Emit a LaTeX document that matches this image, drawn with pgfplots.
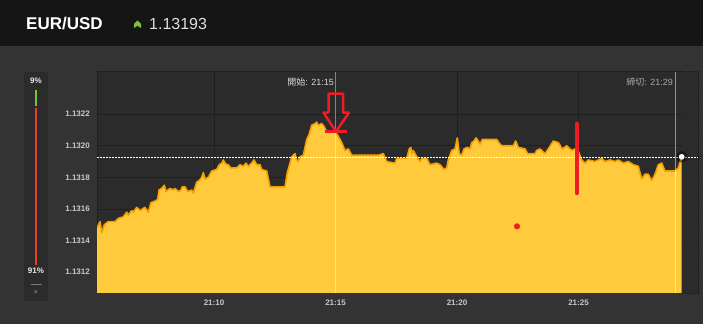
\documentclass[border=0pt]{standalone}
\usepackage{fontspec}
\setmainfont{Liberation Sans}
\newfontfamily\cjk{Noto Sans CJK JP}
\usepackage{pgfplots}
\pgfplotsset{compat=1.18}
\usepackage{pgfplotstable}
\usetikzlibrary{patterns}
\definecolor{topbar}{HTML}{151515}
\definecolor{bg}{HTML}{333333}
\definecolor{plotbg}{HTML}{2B2B2B}
\definecolor{gridc}{HTML}{1F1F1F}
\definecolor{fillc}{HTML}{FFCB3D}
\definecolor{linec}{HTML}{F5A000}
\definecolor{txt}{HTML}{C8C8C8}
\definecolor{upgreen}{HTML}{7DC13B}
\definecolor{redbar}{HTML}{E8401C}
\definecolor{annot}{HTML}{EE1C25}
\definecolor{hatchbg}{HTML}{262626}
\definecolor{hatchfg}{HTML}{363636}

\pgfplotstableread{
t v
5.185 1.13148
5.309 1.13152
5.379 1.13145
5.486 1.13150
5.650 1.13152
5.926 1.13152
6.062 1.13154
6.267 1.13155
6.407 1.13158
6.473 1.13156
6.613 1.13159
6.679 1.13158
6.819 1.13161
6.955 1.13159
7.160 1.13161
7.296 1.13158
7.407 1.13164
7.572 1.13165
7.683 1.13166
7.737 1.13172
7.848 1.13173
7.955 1.13175
8.025 1.13171
8.189 1.13173
8.325 1.13172
8.395 1.13173
8.531 1.13171
8.642 1.13172
8.695 1.13174
8.807 1.13174
8.918 1.13171
9.082 1.13172
9.148 1.13170
9.288 1.13177
9.395 1.13178
9.494 1.13180
9.560 1.13183
9.630 1.13179
9.765 1.13180
9.905 1.13184
10.111 1.13185
10.218 1.13188
10.317 1.13189
10.383 1.13191
10.453 1.13189
10.523 1.13188
10.588 1.13188
10.687 1.13186
10.934 1.13186
11.070 1.13188
11.206 1.13187
11.317 1.13189
11.412 1.13187
11.551 1.13189
11.646 1.13191
11.757 1.13188
11.893 1.13188
11.963 1.13185
12.169 1.13184
12.305 1.13174
12.922 1.13174
13.016 1.13183
13.128 1.13189
13.198 1.13193
13.263 1.13194
13.333 1.13195
13.403 1.13191
13.469 1.13190
13.539 1.13193
13.675 1.13194
13.815 1.13204
13.909 1.13207
14.021 1.13213
14.156 1.13214
14.226 1.13215
14.292 1.13213
14.432 1.13214
14.498 1.13213
14.638 1.13209
14.979 1.13209
15.115 1.13206
15.255 1.13202
15.391 1.13197
15.527 1.13198
15.667 1.13194
15.802 1.13194
16.214 1.13194
16.490 1.13194
16.761 1.13194
16.967 1.13195
17.107 1.13190
17.449 1.13189
17.519 1.13192
17.930 1.13192
18.037 1.13198
18.095 1.13199
18.148 1.13195
18.202 1.13197
18.342 1.13193
18.477 1.13190
18.547 1.13192
18.753 1.13192
18.889 1.13188
19.165 1.13189
19.300 1.13188
19.465 1.13185
19.576 1.13186
19.642 1.13191
19.782 1.13197
19.918 1.13198
20.012 1.13205
20.095 1.13195
20.193 1.13194
20.288 1.13198
20.424 1.13199
20.535 1.13198
20.605 1.13202
20.700 1.13203
20.782 1.13205
20.877 1.13203
20.947 1.13201
21.041 1.13204
21.634 1.13204
21.770 1.13201
21.840 1.13200
22.317 1.13200
22.416 1.13203
22.523 1.13199
22.798 1.13198
22.909 1.13195
23.210 1.13195
23.280 1.13197
23.416 1.13198
23.621 1.13195
23.757 1.13198
23.963 1.13203
24.169 1.13202
24.333 1.13198
24.514 1.13200
24.720 1.13197
24.856 1.13198
24.979 1.13197
25.132 1.13191
25.267 1.13189
25.403 1.13191
25.679 1.13190
25.815 1.13191
25.955 1.13192
26.091 1.13190
26.296 1.13191
26.502 1.13190
26.638 1.13191
26.844 1.13189
27.049 1.13190
27.255 1.13188
27.461 1.13187
27.601 1.13179
27.737 1.13182
27.872 1.13182
28.012 1.13178
28.148 1.13182
28.284 1.13188
28.424 1.13189
28.560 1.13184
28.971 1.13184
29.107 1.13186
29.247 1.13193
}\pricedata

\begin{document}
\begin{tikzpicture}
% backgrounds
\fill[bg] (0pt,0pt) rectangle (703pt,-324pt);
\fill[topbar] (0pt,0pt) rectangle (703pt,-46pt);
% header
\node[anchor=base west, inner sep=0pt, text=white, font=\fontsize{17}{20}\selectfont\bfseries] at (26pt,-29.3pt) {EUR/USD};
\fill[upgreen] (134pt,-28pt) -- (134pt,-23.8pt) -- (137.5pt,-20.5pt) -- (141pt,-23.8pt) -- (141pt,-28pt) -- (137.5pt,-25.8pt) -- cycle;
\node[anchor=base west, inner sep=0pt, text=white!88!black, font=\fontsize{16}{19}\selectfont] at (149pt,-29.3pt) {1.13193};
% left percentage panel
\fill[plotbg] (24pt,-72.3pt) rectangle (48pt,-300.7pt);
\node[inner sep=0pt, text=white!92!black, font=\fontsize{8}{9.6}\selectfont\bfseries] at (36pt,-80.7pt) {9\%};
\draw[upgreen, line width=2pt] (36pt,-90pt) -- (36pt,-106pt);
\draw[redbar, line width=2pt] (36pt,-107.5pt) -- (36pt,-265pt);
\node[inner sep=0pt, text=white!92!black, font=\fontsize{8}{9.6}\selectfont\bfseries] at (36pt,-271pt) {91\%};
\draw[white!35!bg, line width=0.7pt] (31pt,-284.3pt) -- (42pt,-284.3pt);
\node[inner sep=0pt, text=white!55!bg, font=\fontsize{7}{8}\selectfont] at (36pt,-293pt) {×};

\begin{axis}[
  at={(97pt,-293pt)}, anchor=south west,
  scale only axis, width=601pt, height=221pt,
  xmin=5.185, xmax=29.918, ymin=1.131068, ymax=1.132467,
  axis background/.style={fill=plotbg},
  axis line style={draw=gridc, line width=1pt},
  grid=major, major grid style={draw=gridc, line width=0.8pt},
  xtick={10,15,20,25}, xticklabels={21:10,21:15,21:20,21:25},
  ytick={1.1312,1.1314,1.1316,1.1318,1.1320,1.1322},
  yticklabels={1.1312,1.1314,1.1316,1.1318,1.1320,1.1322},
  scaled y ticks=false, scaled x ticks=false,
  major tick length=0pt,
  /pgf/number format/assume math mode=true,
  tick label style={font=\fontsize{8}{9.6}\selectfont\bfseries, text=txt, inner sep=0pt},
  yticklabel style={anchor=east, xshift=-7pt},
  xticklabel style={anchor=north, yshift=-7pt},
  clip=true,
]
% hatched future region
\fill[hatchbg] (axis cs:29.26,1.131068) rectangle (axis cs:29.918,1.132467);
\fill[pattern=north east lines, pattern color=hatchfg] (axis cs:29.26,1.131068) rectangle (axis cs:29.918,1.132467);
% area
\addplot[draw=none, fill=fillc] table[x=t,y=v]{\pricedata} \closedcycle;
\addplot[linec, line width=1.6pt, line join=round] table[x=t,y=v]{\pricedata};
% start / end lines
\addplot[white, opacity=0.45, line width=1pt] coordinates {(15,1.131068) (15,1.132467)};
\addplot[white, opacity=0.5, line width=1pt] coordinates {(29,1.131068) (29,1.132467)};
% current price dashed line
\addplot[white, line width=0.6pt, dash pattern=on 1.6pt off 1.4pt] coordinates {(5.185,1.13193) (29.918,1.13193)};
% labels
\node[anchor=base east, inner sep=0pt, text=white!85!black, font=\fontsize{9}{11}\selectfont] at (axis cs:14.94,1.13238) {{\cjk 開始}: 21:15};
\node[anchor=base east, inner sep=0pt, text=white!65!black, font=\fontsize{9}{11}\selectfont] at (axis cs:28.89,1.13238) {{\cjk 締切}: 21:29};
% red annotations
\addplot[annot, line width=2.5pt, line join=round] coordinates {(14.712,1.13221) (14.712,1.13233) (15.309,1.13233) (15.309,1.13221) (15.556,1.13221) (15.021,1.13209) (14.506,1.13221) (14.712,1.13221)};
\addplot[annot, line width=2.5pt] coordinates {(14.568,1.13209) (15.473,1.13209)};
\addplot[annot, line width=4pt, line cap=round] coordinates {(24.938,1.13214) (24.938,1.13170)};
\addplot[only marks, mark=*, mark size=2.8pt, color=annot] coordinates {(22.469,1.13149)};
% last price dot
\addplot[only marks, mark=*, mark size=5.5pt, color=black, opacity=0.35, mark options={draw=none}] coordinates {(29.247,1.13193)};
\addplot[only marks, mark=*, mark size=2.6pt, color=white] coordinates {(29.247,1.13193)};
\end{axis}
\end{tikzpicture}
\end{document}
